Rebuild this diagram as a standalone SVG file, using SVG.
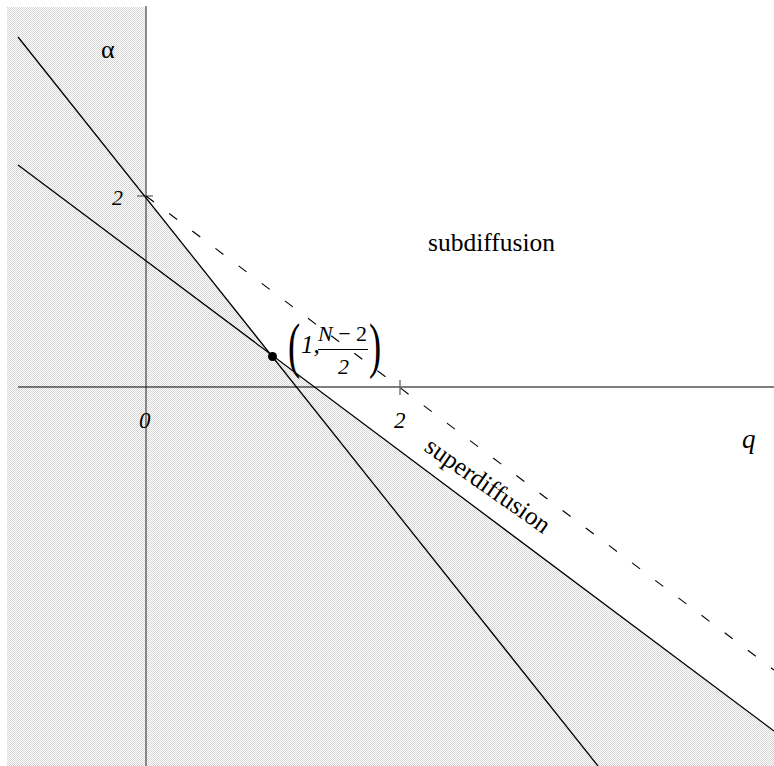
<svg xmlns="http://www.w3.org/2000/svg" width="774" height="766" viewBox="0 0 774 766">
<defs>
<pattern id="dots" width="2" height="2" patternUnits="userSpaceOnUse">
<rect width="2" height="2" fill="#ffffff"/>
<rect width="1" height="1" fill="#d6d6d6"/>
<rect x="1" y="1" width="1" height="1" fill="#d6d6d6"/>
</pattern>
<style>
.ln{stroke:#000;stroke-width:1.3;fill:none}
.ax{stroke:#666;stroke-width:1.5;fill:none}
.tk{stroke:#666;stroke-width:1.3;fill:none}
.dash{stroke:#000;stroke-width:1.1;stroke-dasharray:10 19;fill:none}
.t{font-family:"Liberation Serif","Times New Roman",serif;fill:#000}
.it{font-style:italic}
</style>
</defs>
<rect width="774" height="766" fill="#fff"/>
<g id="shading">
<rect x="7" y="7" width="139" height="759" fill="url(#dots)"/>
<polygon points="146,197 273,357 774,731 774,766 146,766" fill="url(#dots)"/>
</g>
<g id="axes">
<line class="ax" x1="146" y1="6" x2="146" y2="766"/>
<line class="ln" x1="18" y1="387" x2="774" y2="387" style="stroke-width:1.2"/>
<line class="tk" x1="137" y1="196" x2="153" y2="196"/>
<line class="tk" x1="400" y1="380" x2="400" y2="395"/>
</g>
<g id="connectors">
<line class="ln" x1="18" y1="37" x2="598" y2="766"/>
<line class="ln" x1="18" y1="165" x2="774" y2="731"/>
<line class="dash" x1="146" y1="196" x2="774" y2="670"/>
</g>
<g id="point">
<circle cx="272.5" cy="356.5" r="4.5" fill="#000"/>
</g>
<g id="labels">
<text class="t" x="101" y="58" font-size="26">α</text>
<text class="t it" x="112" y="205" font-size="22">2</text>
<text class="t it" x="139" y="428" font-size="23">0</text>
<text class="t it" x="394" y="428" font-size="23">2</text>
<text class="t it" x="742" y="448" font-size="27">q</text>
<text class="t" x="428" y="251" font-size="25.5">subdiffusion</text>
<text class="t" font-size="25.5" transform="translate(423,450) rotate(35)">superdiffusion</text>
</g>
<g id="point-label">
<text class="t" font-size="61" transform="translate(288,366) scale(0.6,1)">(</text>
<text class="t it" x="301" y="353" font-size="25">1,</text>
<text class="t" x="318" y="341" font-size="22"><tspan font-style="italic">N</tspan> − 2</text>
<line x1="318" y1="349.5" x2="368" y2="349.5" stroke="#000" stroke-width="1.1"/>
<text class="t it" x="338" y="374" font-size="22">2</text>
<text class="t" font-size="61" transform="translate(369,366) scale(0.6,1)">)</text>
</g>
</svg>
